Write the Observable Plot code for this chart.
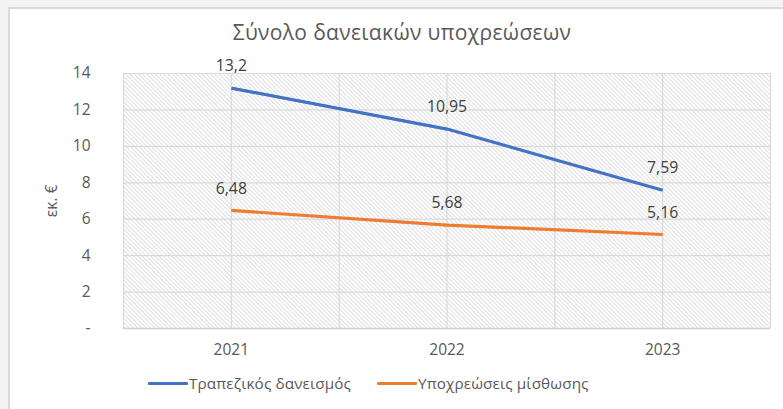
<!DOCTYPE html>
<html>
<head>
<meta charset="utf-8">
<script src="https://cdn.jsdelivr.net/npm/d3@7"></script>
<script src="https://cdn.jsdelivr.net/npm/@observablehq/plot@0.6"></script>
<style>
  html, body { margin: 0; padding: 0; background: #f3f3f3; width: 783px; height: 409px; overflow: hidden; }
  #card { position: absolute; left: 8px; top: 7px; width: 800px; height: 420px; background: #fff; border-left: 2px solid #d9d9d9; border-top: 2px solid #d9d9d9; }
  #chart { position: absolute; left: 0; top: 0; }
  #title { position: absolute; left: 0; width: 804px; top: 18px; text-align: center; font-family: "Open Sans", sans-serif; font-size: 21px; letter-spacing: 0.35px; color: #595959; white-space: nowrap; }
  #legend { position: absolute; top: 373px; left: 0; font-family: "Open Sans", sans-serif; font-size: 15.3px; letter-spacing: 0.1px; color: #595959; white-space: nowrap; }
  .item { position: absolute; display: flex; align-items: center; }
  .sw { display: inline-block; width: 40px; height: 3px; margin-right: 1px; border-radius: 1px; }
</style>
</head>
<body>
<div id="card"></div>
<div id="chart"></div>
<div id="title">Σύνολο δανειακών υποχρεώσεων</div>
<div id="legend"></div>
<script>
const years = [2021, 2022, 2023];
const seriesNames = ["Τραπεζικός δανεισμός", "Υποχρεώσεις μίσθωσης"];
const bankLoans = [13.2, 10.95, 7.59];
const leaseLiabilities = [6.48, 5.68, 5.16];
const colors = ["#4472C4", "#ED7D31"];
const yTicks = [0, 2, 4, 6, 8, 10, 12, 14];
const xGrid = [2020.5, 2021, 2021.5, 2022, 2022.5, 2023, 2023.5];

const data = [];
years.forEach((y, i) => {
  data.push({year: y, value: bankLoans[i], series: seriesNames[0]});
  data.push({year: y, value: leaseLiabilities[i], series: seriesNames[1]});
});
const fmt = v => String(v).replace(".", ",");

const plot = Plot.plot({
  width: 783,
  height: 409,
  marginLeft: 123,
  marginRight: 13,
  marginTop: 73,
  marginBottom: 81,
  style: {fontFamily: "Open Sans, sans-serif", fontSize: "15px", color: "#595959", background: "transparent", overflow: "visible"},
  x: {domain: [2020.5, 2023.5]},
  y: {domain: [0, 14]},
  color: {domain: seriesNames, range: colors},
  marks: [
    Plot.frame({fill: "url(#hatch)", stroke: null}),
    Plot.ruleY(yTicks, {stroke: "#dadada", strokeWidth: 1.2}),
    Plot.ruleX(xGrid, {stroke: "#dadada", strokeWidth: 1.2}),
    Plot.ruleY([0], {stroke: "#d0d0d0", strokeWidth: 1.5}),
    Plot.axisY(yTicks, {tickSize: 0, tickPadding: 33, tickFormat: d => d === 0 ? "-" : String(d), fill: "#595959", fontSize: 15.5,
      label: "εκ. €", labelAnchor: "center", labelArrow: "none", labelOffset: 78}),
    Plot.axisX(years, {tickSize: 0, tickPadding: 15, tickFormat: d => String(d), fill: "#595959", fontSize: 15.5, label: null}),
    Plot.line(data, {x: "year", y: "value", z: "series", stroke: "series", strokeWidth: 3.2, strokeLinecap: "butt"}),
    Plot.text(data, {x: "year", y: "value", text: d => fmt(d.value), dy: -22, fill: "#404040", fontSize: 15.8})
  ]
});

const svg = d3.select(plot);
const defs = svg.insert("defs", ":first-child");
const pat = defs.append("pattern").attr("id", "hatch").attr("width", 3).attr("height", 3)
  .attr("patternUnits", "userSpaceOnUse").attr("patternTransform", "rotate(-45)");
pat.append("rect").attr("width", 3).attr("height", 3).attr("fill", "#ffffff");
pat.append("line").attr("x1", 0.5).attr("y1", 0).attr("x2", 0.5).attr("y2", 3).attr("stroke", "#dedede").attr("stroke-width", 1);

document.getElementById("chart").appendChild(plot);

const legend = document.getElementById("legend");
const lx = [148, 377];
seriesNames.forEach((n, i) => {
  const it = document.createElement("div");
  it.className = "item";
  it.style.left = lx[i] + "px";
  it.innerHTML = `<span class="sw" style="background:${colors[i]}"></span><span>${n}</span>`;
  legend.appendChild(it);
});
</script>
</body>
</html>
